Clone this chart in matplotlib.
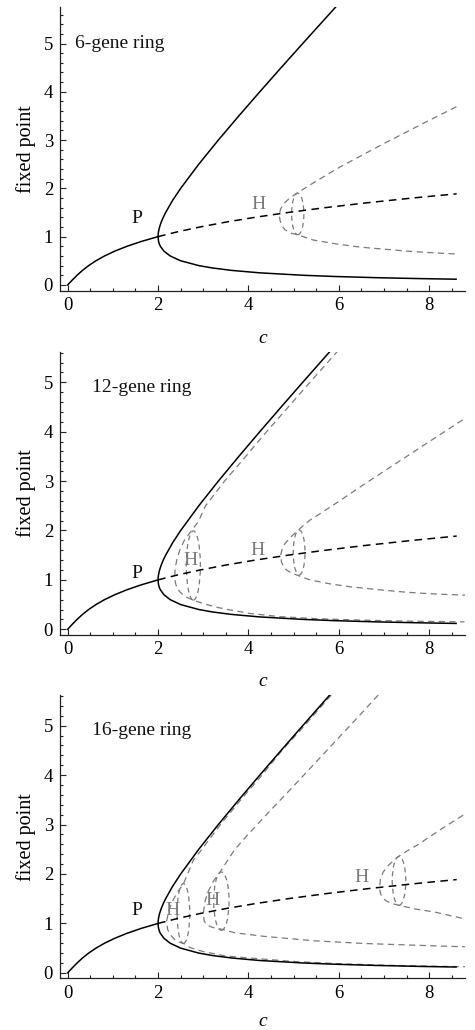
import matplotlib
matplotlib.use("Agg")
import matplotlib.pyplot as plt
from matplotlib.patches import Ellipse
from matplotlib.ticker import MultipleLocator

plt.rcParams['font.family'] = ['Liberation Serif', 'DejaVu Serif']

# ---------------- data ----------------
ring_names = ["6-gene ring", "12-gene ring", "16-gene ring"]

# stable symmetric fixed point (c, value)
sym_c = [0.0, 0.050, 0.101, 0.208, 0.327, 0.464, 0.625, 0.816, 1.043, 1.312, 1.629, 2.0]
sym_y = [0.0, 0.05, 0.1, 0.2, 0.3, 0.4, 0.5, 0.6, 0.7, 0.8, 0.9, 1.0]
# unstable symmetric fixed point (dashed black)
symd_c = [2.0, 2.431, 2.928, 3.497, 4.144, 4.875, 5.696, 6.613, 7.632, 8.606]
symd_y = [1.0, 1.1, 1.2, 1.3, 1.4, 1.5, 1.6, 1.7, 1.8, 1.887]
# pitchfork branch (solid black, lower end -> upper end)
pf_c = [8.593, 7.822, 6.817, 5.889, 5.2, 4.25, 3.633, 3.207, 2.9, 2.5, 2.267, 2.129, 2.05,
        2.026, 2.011, 2.003, 2.0, 2.002, 2.009, 2.020, 2.033, 2.069, 2.114, 2.167, 2.321,
        2.5, 2.9, 3.333, 3.786, 4.25, 4.722, 5.2, 5.682, 5.972]
pf_y = [0.118, 0.13, 0.15, 0.175, 0.2, 0.25, 0.3, 0.35, 0.4, 0.5, 0.6, 0.7, 0.8,
        0.85, 0.9, 0.95, 1.0, 1.05, 1.1, 1.15, 1.2, 1.3, 1.4, 1.5, 1.75,
        2.0, 2.5, 3.0, 3.5, 4.0, 4.5, 5.0, 5.5, 5.8]

# gray dashed branches born at Hopf points (upper end -> tip -> lower end)
h6_c = [8.60, 8.00, 7.50, 7.00, 6.50, 6.00, 5.50, 5.07, 4.90, 4.77, 4.71, 4.68,
        4.70, 4.74, 4.81, 4.95, 5.10, 5.43, 6.00, 6.50, 7.00, 7.50, 8.00, 8.60]
h6_y = [3.69, 3.41, 3.17, 2.93, 2.68, 2.43, 2.15, 1.90, 1.79, 1.67, 1.57, 1.45,
        1.33, 1.22, 1.14, 1.07, 1.035, 0.93, 0.84, 0.78, 0.74, 0.70, 0.67, 0.64]

h12a_c = [5.99, 5.36, 4.88, 4.40, 3.94, 3.47, 3.05, 2.89, 2.74, 2.58, 2.48, 2.42, 2.38, 2.37,
          2.38, 2.42, 2.48, 2.60, 2.78, 3.00, 3.30, 3.60, 4.03, 4.70, 5.50, 6.50, 7.50, 8.78]
h12a_y = [5.65, 5.00, 4.50, 4.00, 3.50, 3.00, 2.50, 2.18, 2.00, 1.80, 1.60, 1.43, 1.25, 1.10,
          0.95, 0.83, 0.76, 0.66, 0.59, 0.52, 0.445, 0.39, 0.32, 0.255, 0.215, 0.185, 0.165, 0.15]
h12b_c = [8.74, 8.00, 7.50, 7.00, 6.50, 6.00, 5.50, 5.36, 5.10, 4.95, 4.81, 4.75, 4.71,
          4.73, 4.78, 4.84, 4.95, 5.12, 5.36, 5.80, 6.25, 7.00, 7.50, 8.00, 8.79]
h12b_y = [4.24, 3.80, 3.50, 3.20, 2.90, 2.59, 2.29, 2.21, 2.01, 1.88, 1.74, 1.64, 1.50,
          1.36, 1.26, 1.20, 1.14, 1.08, 1.00, 0.92, 0.86, 0.79, 0.75, 0.72, 0.69]

h16a_c = [5.83, 5.24, 4.74, 4.30, 3.83, 3.38, 2.97, 2.78, 2.69, 2.56, 2.42, 2.32, 2.24, 2.19,
          2.21, 2.27, 2.36, 2.47, 2.56, 2.71, 3.00, 3.50, 4.03, 5.00, 6.00, 7.00, 8.00, 8.80]
h16a_y = [5.62, 5.00, 4.50, 4.00, 3.50, 3.00, 2.50, 2.28, 2.08, 1.80, 1.62, 1.45, 1.27, 1.05,
          0.88, 0.77, 0.68, 0.62, 0.595, 0.51, 0.43, 0.34, 0.30, 0.23, 0.185, 0.155, 0.135, 0.125]
h16b_c = [6.87, 6.50, 6.00, 5.50, 5.00, 4.50, 4.00, 3.70, 3.52, 3.37, 3.22, 3.11, 3.04, 3.00,
          3.02, 3.08, 3.20, 3.42, 3.70, 4.33, 5.43, 6.54, 7.65, 8.79]
h16b_y = [5.62, 5.25, 4.76, 4.27, 3.78, 3.30, 2.81, 2.50, 2.25, 2.04, 1.85, 1.65, 1.45, 1.20,
          1.05, 0.97, 0.92, 0.88, 0.81, 0.74, 0.65, 0.595, 0.56, 0.527]
h16c_c = [8.75, 8.30, 7.76, 7.50, 7.31, 7.10, 6.98, 6.92, 6.90,
          6.92, 6.97, 7.04, 7.15, 7.31, 7.70, 8.09, 8.75]
h16c_y = [3.19, 2.93, 2.60, 2.46, 2.35, 2.18, 2.04, 1.90, 1.73,
          1.60, 1.52, 1.46, 1.41, 1.37, 1.29, 1.235, 1.10]

# limit-cycle ellipses: centre c, centre value, width (c), height (value)
ell6_c, ell6_y, ell6_w, ell6_h = [5.09], [1.47], [0.27], [0.86]
ell12_c, ell12_y, ell12_w, ell12_h = [2.78, 5.12], [1.29, 1.555], [0.31, 0.26], [1.40, 0.91]
ell16_c, ell16_y, ell16_w, ell16_h = ([2.56, 3.40, 7.33], [1.20, 1.45, 1.86],
                                      [0.28, 0.34, 0.30], [1.21, 1.18, 0.99])

# labels
p_c = [1.53, 1.54, 1.54]
p_y = [1.38, 1.13, 1.27]
hlab6_c, hlab6_y = [4.22], [1.66]
hlab12_c, hlab12_y = [2.71, 4.20], [1.40, 1.59]
hlab16_c, hlab16_y = [2.31, 3.21, 6.50], [1.26, 1.47, 1.93]
name_c = [0.16, 0.53, 0.53]
name_y = [5.00, 4.89, 4.90]

x_ticks = [0, 2, 4, 6, 8]
y_ticks = [0, 1, 2, 3, 4, 5]

# ---------------- figure ----------------
fig = plt.figure(figsize=(4.75, 10.3), dpi=100)
W, H = 475.0, 1030.0
rects = [(7.3, 290.7), (351.7, 634.7), (695.0, 978.3)]
ylims = [(-0.12, 5.75), (-0.11, 5.62), (-0.11, 5.62)]
clab_y = [-0.167, -0.167, -0.152]

panels = [
    dict(branches=[(h6_c, h6_y)],
         ell=(ell6_c, ell6_y, ell6_w, ell6_h), hl=(hlab6_c, hlab6_y)),
    dict(branches=[(h12a_c, h12a_y), (h12b_c, h12b_y)],
         ell=(ell12_c, ell12_y, ell12_w, ell12_h), hl=(hlab12_c, hlab12_y)),
    dict(branches=[(h16a_c, h16a_y), (h16b_c, h16b_y), (h16c_c, h16c_y)],
         ell=(ell16_c, ell16_y, ell16_w, ell16_h), hl=(hlab16_c, hlab16_y)),
]

gray = '#7a7a7a'
for i, pan in enumerate(panels):
    top, bot = rects[i]
    ax = fig.add_axes([60 / W, 1 - bot / H, 405 / W, (bot - top) / H])
    ax.set_xlim(-0.17, 8.79)
    ax.set_ylim(*ylims[i])

    for bc, by in pan['branches']:
        ax.plot(bc, by, color=gray, lw=0.9, dashes=(5, 3.5), clip_on=True)
    ec, ey, ew, eh = pan['ell']
    for cx, cy, w, h in zip(ec, ey, ew, eh):
        ax.add_patch(Ellipse((cx, cy), w, h, fill=False, edgecolor=gray,
                             lw=0.9, linestyle=(0, (4, 3))))

    ax.plot(sym_c, sym_y, color='k', lw=1.1)
    ax.plot(pf_c, pf_y, color='k', lw=1.1)
    ax.plot(symd_c, symd_y, color='k', lw=1.1, dashes=(5, 3.5))

    ax.text(p_c[i], p_y[i], "P", fontsize=14, ha='center', va='center', color='#111111')
    for hx, hy in zip(*pan['hl']):
        ax.text(hx, hy, "H", fontsize=14, ha='center', va='center', color=gray)
    ax.text(name_c[i], name_y[i], ring_names[i], fontsize=14, ha='left', va='center',
            color='#111111')

    for s in ('top', 'right'):
        ax.spines[s].set_visible(False)
    for s in ('left', 'bottom'):
        ax.spines[s].set_linewidth(0.9)
        ax.spines[s].set_color('#222222')
    ax.set_xticks(x_ticks)
    ax.set_yticks(y_ticks)
    ax.xaxis.set_minor_locator(MultipleLocator(0.5))
    ax.yaxis.set_minor_locator(MultipleLocator(0.2))
    ax.tick_params(which='both', direction='in', labelsize=13.5, color='#222222', width=0.8)
    ax.tick_params(which='major', length=4)
    ax.tick_params(which='minor', length=2)
    ax.tick_params(axis='x', pad=4.5)
    ax.tick_params(axis='y', pad=5)

    ax.set_xlabel("c", fontsize=14, fontstyle='italic')
    ax.xaxis.set_label_coords(0.5, clab_y[i])
    ax.xaxis.label.set_va('center')
    ax.set_ylabel("fixed point", fontsize=14.5)
    ax.yaxis.set_label_coords(-0.084, 0.5)
    ax.yaxis.label.set_va('center')

fig.savefig("out.png", dpi=100)
